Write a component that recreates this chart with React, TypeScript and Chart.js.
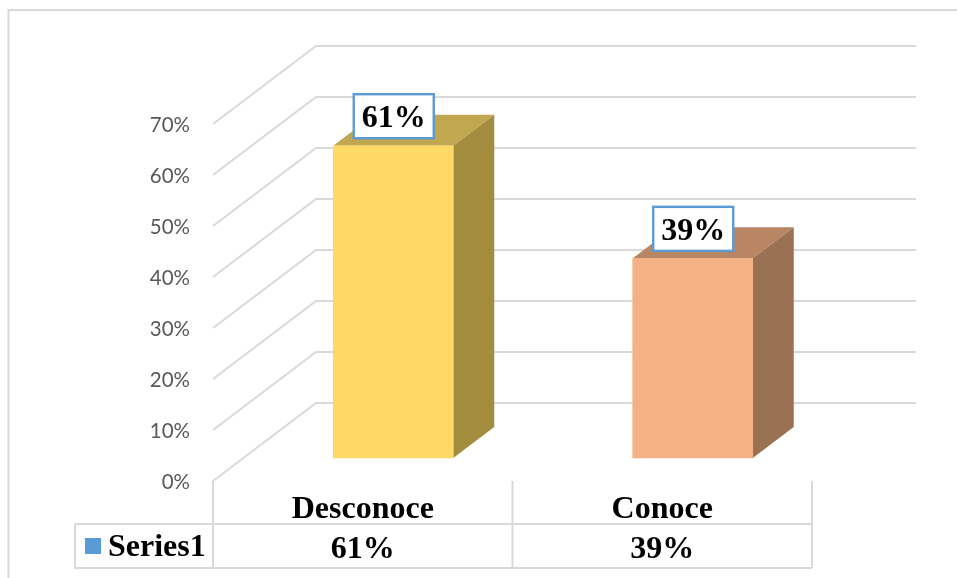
import React, { useEffect, useRef } from "react";
import { Chart, registerables } from "chart.js";

Chart.register(...registerables);

const categories = ["Desconoce", "Conoce"];
const seriesName = "Series1";
const seriesValues = [61, 39];
const tickValues = [0, 10, 20, 30, 40, 50, 60, 70];
const frontColors = ["#FFD966", "#F4B183"];
const topColors = ["#C1A74F", "#B98663"];
const sideColors = ["#A38C3E", "#9A7153"];

const SERIF = '"Liberation Serif", "Times New Roman", serif';
const GRID = "#D9D9D9";
const DX = 103;
const DY = 78;
const BAR_DX = 41;
const BAR_DY = 31;

const box3d = {
  id: "box3d",
  beforeDatasetsDraw(chart: any) {
    const { ctx, scales, chartArea } = chart;
    const y = scales.y;
    ctx.save();
    ctx.strokeStyle = GRID;
    ctx.lineWidth = 2;
    tickValues.forEach((v) => {
      const py = y.getPixelForValue(v);
      ctx.beginPath();
      ctx.moveTo(chartArea.left, py);
      ctx.lineTo(chartArea.left + DX, py - DY);
      ctx.lineTo(chartArea.right + DX + 1, py - DY);
      ctx.stroke();
    });
    chart.getDatasetMeta(0).data.forEach((bar: any, i: number) => {
      const l = bar.x - bar.width / 2;
      const r = bar.x + bar.width / 2;
      ctx.fillStyle = topColors[i];
      ctx.beginPath();
      ctx.moveTo(l, bar.y);
      ctx.lineTo(l + BAR_DX, bar.y - BAR_DY);
      ctx.lineTo(r + BAR_DX, bar.y - BAR_DY);
      ctx.lineTo(r, bar.y);
      ctx.closePath();
      ctx.fill();
      ctx.fillStyle = sideColors[i];
      ctx.beginPath();
      ctx.moveTo(r, bar.y);
      ctx.lineTo(r + BAR_DX, bar.y - BAR_DY);
      ctx.lineTo(r + BAR_DX, bar.base - BAR_DY);
      ctx.lineTo(r, bar.base);
      ctx.closePath();
      ctx.fill();
    });
    ctx.restore();
  },
  afterDatasetsDraw(chart: any) {
    const { ctx } = chart;
    ctx.save();
    ctx.font = `bold 32px ${SERIF}`;
    ctx.textAlign = "center";
    ctx.textBaseline = "middle";
    chart.getDatasetMeta(0).data.forEach((bar: any, i: number) => {
      const w = 80;
      const h = 44;
      const x = bar.x - w / 2 + 0.5;
      const yTop = bar.y - 7.5 - h;
      ctx.fillStyle = "#FFFFFF";
      ctx.fillRect(x, yTop, w, h);
      ctx.strokeStyle = "#5B9BD5";
      ctx.lineWidth = 2.4;
      ctx.strokeRect(x, yTop, w, h);
      ctx.fillStyle = "#000000";
      ctx.fillText(`${seriesValues[i]}%`, x + w / 2, yTop + h / 2 + 3);
    });
    ctx.restore();
  },
  afterDraw(chart: any) {
    const { ctx, chartArea, scales } = chart;
    const left = 75;
    const rowY = 524;
    const bottomY = 568;
    ctx.save();
    ctx.strokeStyle = GRID;
    ctx.lineWidth = 2;
    // chart frame
    ctx.beginPath();
    ctx.moveTo(8.5, 578);
    ctx.lineTo(8.5, 10);
    ctx.lineTo(957, 10);
    ctx.stroke();
    // data table
    ctx.beginPath();
    ctx.moveTo(left, rowY);
    ctx.lineTo(chartArea.right, rowY);
    ctx.moveTo(left, rowY);
    ctx.lineTo(left, bottomY);
    ctx.lineTo(chartArea.right, bottomY);
    const cell = (chartArea.right - chartArea.left) / categories.length;
    for (let i = 0; i <= categories.length; i++) {
      const x = chartArea.left + cell * i;
      ctx.moveTo(x, chartArea.bottom);
      ctx.lineTo(x, bottomY);
    }
    ctx.stroke();
    ctx.fillStyle = "#5B9BD5";
    ctx.fillRect(85, 538, 16, 16);
    ctx.fillStyle = "#000000";
    ctx.font = `bold 32px ${SERIF}`;
    ctx.textBaseline = "alphabetic";
    ctx.textAlign = "left";
    ctx.fillText(seriesName, 108, 556);
    ctx.textAlign = "center";
    seriesValues.forEach((v, i) => {
      ctx.fillText(`${v}%`, scales.x.getPixelForValue(i), 558);
    });
    ctx.restore();
  },
};

export default function App() {
  const ref = useRef<HTMLCanvasElement>(null);
  useEffect(() => {
    const chart = new Chart(ref.current as HTMLCanvasElement, {
      type: "bar",
      data: {
        labels: categories,
        datasets: [
          {
            label: seriesName,
            data: seriesValues.map((v, i) => ({ x: i, y: v })),
            backgroundColor: frontColors,
            borderWidth: 0,
            barThickness: 120,
            xAxisID: "x2",
            yAxisID: "y2",
          },
        ],
      },
      options: {
        responsive: false,
        animation: false,
        layout: { padding: { top: 45, right: 145, left: 0, bottom: 0 } },
        plugins: { legend: { display: false }, tooltip: { enabled: false } },
        scales: {
          x: {
            type: "category",
            position: "bottom",
            grid: { display: false },
            border: { display: false },
            offset: true,
            afterFit: (s: any) => {
              s.height = 97;
            },
            ticks: {
              color: "#000000",
              padding: 1.5,
              maxRotation: 0,
              autoSkip: false,
              font: { family: SERIF, size: 32, weight: "bold" },
            },
          },
          x2: { type: "linear", display: false, offset: false, min: -0.6018, max: 1.3982 },
          y: {
            type: "linear",
            position: "left",
            min: 0,
            max: 85.49,
            grid: { display: false, drawTicks: false },
            border: { display: false },
            afterFit: (s: any) => {
              s.width = 213;
            },
            afterBuildTicks: (s: any) => {
              s.ticks = tickValues.map((value) => ({ value }));
            },
            ticks: {
              color: "#595959",
              padding: 23,
              labelOffset: 1,
              font: { family: "Lato", size: 20.5 },
              callback: (v: any) => `${v}%`,
            },
          },
          y2: { type: "linear", display: false, min: -4.49, max: 80.67 },
        },
      },
      plugins: [box3d],
    } as any);
    return () => chart.destroy();
  }, []);
  return (
    <div style={{ position: "absolute", left: 0, top: 0, width: 957, height: 578, background: "#fff" }}>
      <canvas ref={ref} width={957} height={578} style={{ display: "block" }} />
    </div>
  );
}
